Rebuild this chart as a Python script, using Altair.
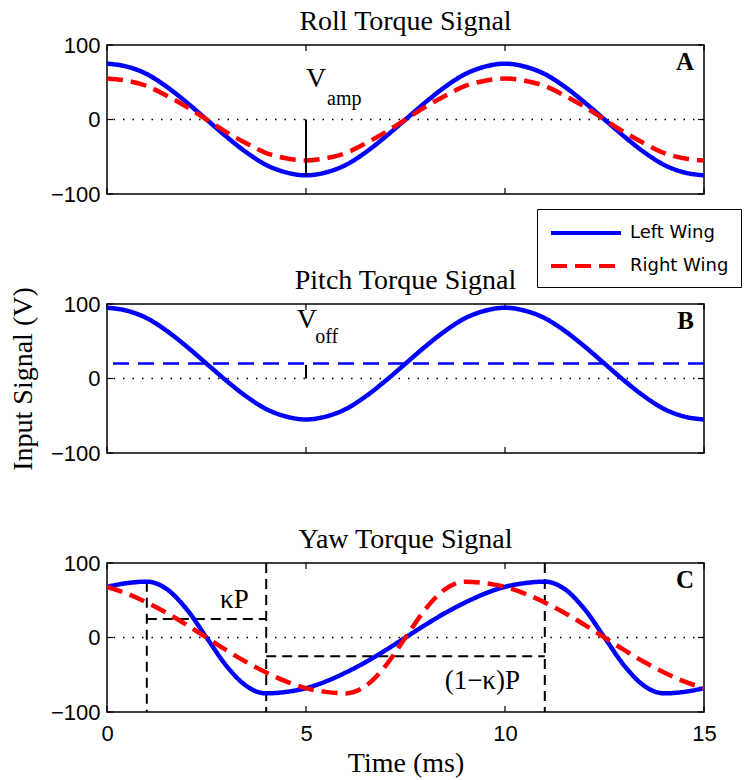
import altair as alt
import pandas as pd

# ---------------- data ----------------
time = [0, 0.5, 1, 1.5, 2, 2.5, 3, 3.5, 4, 4.5, 5, 5.5, 6, 6.5, 7, 7.5,
        8, 8.5, 9, 9.5, 10, 10.5, 11, 11.5, 12, 12.5, 13, 13.5, 14, 14.5, 15]

roll_left = [75, 71, 61, 44, 23, 0, -23, -44, -61, -71, -75, -71, -61, -44, -23, 0,
             23, 44, 61, 71, 75, 71, 61, 44, 23, 0, -23, -44, -61, -71, -75]
roll_right = [55, 52, 45, 32, 17, 0, -17, -32, -45, -52, -55, -52, -45, -32, -17, 0,
              17, 32, 45, 52, 55, 52, 45, 32, 17, 0, -17, -32, -45, -52, -55]
pitch_left = [95, 91, 81, 64, 43, 20, -3, -24, -41, -51, -55, -51, -41, -24, -3, 20,
              43, 64, 81, 91, 95, 91, 81, 64, 43, 20, -3, -24, -41, -51, -55]
yaw_left = [68, 73, 75, 65, 38, 0, -38, -65, -75, -73, -68, -59, -47, -33, -17, 0,
            17, 33, 47, 59, 68, 73, 75, 65, 38, 0, -38, -65, -75, -73, -68]
yaw_right = [68, 59, 47, 33, 17, 0, -17, -33, -47, -59, -68, -73, -75, -65, -38, 0,
             38, 65, 75, 73, 68, 59, 47, 33, 17, 0, -17, -33, -47, -59, -68]

series_names = ["Left Wing", "Right Wing"]
panel_titles = ["Roll Torque Signal", "Pitch Torque Signal", "Yaw Torque Signal"]
panel_letters = ["A", "B", "C"]
x_ticks = [0, 5, 10, 15]
y_ticks = [-100, 0, 100]

# annotations
amp_marker = {"x": [5], "y": [0], "y2": [-75]}
off_marker = {"x": [5], "y": [0], "y2": [18]}
offset_level = [20]
kappa_x = [1, 4, 11, 1, 4]
kappa_x2 = [1, 4, 11, 4, 11]
kappa_y = [75, 100, 100, 25, -25]
kappa_y2 = [-100, -100, -100, 25, -25]

# ---------------- helpers ----------------
W, H = 597, 149
BLUE, RED = "#0000ff", "#ff0000"
SERIF, SANS = "Liberation Serif", "Liberation Sans"

legend = alt.Legend(
    title=None, orient="none", legendX=430, legendY=164,
    symbolType="M-1,0H6", symbolSize=400, symbolStrokeWidth=4,
    labelFont="DejaVu Sans", labelFontSize=18, labelColor="black", labelOffset=57,
    strokeColor="black", fillColor="white", padding=12, rowPadding=12,
)

XS = alt.Scale(domain=[0, 15], nice=False, zero=False)
YS = alt.Scale(domain=[-100, 100], nice=False)

X_AXIS = alt.Axis(values=x_ticks, title="Time (ms)", ticks=False, domain=False, grid=False,
                  labelFont=SANS, labelFontSize=22, labelColor="black", labelPadding=11,
                  labelFlush=False, titleFont=SERIF, titleFontSize=28, titleFontWeight="normal",
                  titleColor="black", titlePadding=5)

def y_axis(title_color):
    return alt.Axis(values=y_ticks, title="Input Signal (V)", ticks=False, domain=False, grid=False,
                    labelFont=SANS, labelFontSize=22, labelColor="black", labelPadding=7,
                    labelFlush=False, labelOverlap=False, titleFont=SERIF, titleFontSize=28,
                    titleFontWeight="normal", titleColor=title_color, titlePadding=13)


def make_panel(idx, show_x, title_color):
    xa = X_AXIS if show_x else None
    ya = y_axis(title_color)

    def X(field):
        return alt.X(field, scale=XS, axis=xa)

    def Y(field):
        return alt.Y(field, scale=YS, axis=ya)

    def zero_layer():
        return alt.Chart(pd.DataFrame({"value": [0]})).mark_rule(
            color="black", strokeWidth=1.5, strokeDash=[1.5, 8]).encode(y=Y("value:Q"))

    def tick_layers():
        xt = pd.DataFrame({"time": x_ticks})
        yt = pd.DataFrame({"value": y_ticks})
        base = dict(color="black", strokeWidth=1.2)
        return [
            alt.Chart(xt).mark_rule(**base).encode(x=X("time:Q"), y=alt.value(H), y2=alt.value(H - 6)),
            alt.Chart(xt).mark_rule(**base).encode(x=X("time:Q"), y=alt.value(0), y2=alt.value(6)),
            alt.Chart(yt).mark_rule(**base).encode(y=Y("value:Q"), x=alt.value(0), x2=alt.value(6)),
            alt.Chart(yt).mark_rule(**base).encode(y=Y("value:Q"), x=alt.value(W - 6), x2=alt.value(W)),
        ]

    def line_layer(df):
        return alt.Chart(df).mark_line(interpolate="monotone", strokeWidth=4.5, clip=True).encode(
            x=X("time:Q"),
            y=Y("value:Q"),
            color=alt.Color("series:N", scale=alt.Scale(domain=series_names, range=[BLUE, RED]), legend=legend),
            strokeDash=alt.StrokeDash("series:N", scale=alt.Scale(domain=series_names, range=[[1, 0], [16, 8]]),
                                      legend=legend),
            detail="series:N",
        )

    def text_layer(xs, ys, labels, size, weight="normal", align="left"):
        df = pd.DataFrame({"time": xs, "value": ys, "label": labels})
        return alt.Chart(df).mark_text(font=SERIF, fontSize=size, fontWeight=weight, align=align,
                                       baseline="alphabetic", color="black").encode(
            x=X("time:Q"), y=Y("value:Q"), text="label:N")

    def vrule(d, **kw):
        df = pd.DataFrame({"time": d["x"], "value": d["y"], "value2": d["y2"]})
        return alt.Chart(df).mark_rule(**kw).encode(x=X("time:Q"), y=Y("value:Q"), y2="value2:Q")

    layers = [zero_layer()] + tick_layers()
    if idx == 0:
        df = pd.DataFrame({"time": time * 2, "value": roll_left + roll_right,
                           "series": [series_names[0]] * len(time) + [series_names[1]] * len(time)})
        layers += [
            line_layer(df),
            vrule(amp_marker, color="black", strokeWidth=2),
            text_layer([5.0], [44], ["V"], 28),
            text_layer([5.53], [20], ["amp"], 20),
        ]
    elif idx == 1:
        df = pd.DataFrame({"time": time, "value": pitch_left, "series": [series_names[0]] * len(time)})
        lvl = alt.Chart(pd.DataFrame({"value": offset_level})).mark_rule(
            color=BLUE, strokeWidth=2.5, strokeDash=[16, 9]).encode(y=Y("value:Q"))
        layers += [
            lvl,
            vrule(off_marker, color="black", strokeWidth=2),
            line_layer(df),
            text_layer([4.77], [68], ["V"], 28),
            text_layer([5.23], [48], ["off"], 20),
        ]
    else:
        df = pd.DataFrame({"time": time * 2, "value": yaw_left + yaw_right,
                           "series": [series_names[0]] * len(time) + [series_names[1]] * len(time)})
        kdf = pd.DataFrame({"time": kappa_x, "time2": kappa_x2, "value": kappa_y, "value2": kappa_y2})
        klines = alt.Chart(kdf).mark_rule(color="black", strokeWidth=2, strokeDash=[10, 6]).encode(
            x=X("time:Q"), x2="time2:Q", y=Y("value:Q"), y2="value2:Q")
        layers += [
            klines,
            line_layer(df),
            text_layer([3.2], [40], ["κP"], 27, align="center"),
            text_layer([9.43], [-69], ["(1−κ)P"], 27, align="center"),
        ]
    layers.append(text_layer([14.75], [66], [panel_letters[idx]], 25, "bold", "right"))
    return alt.layer(*layers).properties(
        width=W, height=H,
        title=alt.TitleParams(panel_titles[idx], font=SERIF, fontSize=28, fontWeight="normal",
                              color="black", offset=-8))


panelA = make_panel(0, False, "transparent")
panelB = make_panel(1, False, "black")
panelC = make_panel(2, True, "transparent")

chart = alt.vconcat(panelA, panelB, panelC, spacing=52).properties(
    padding={"left": 0, "top": -2, "right": 0, "bottom": 0}
).configure_view(stroke="black", strokeWidth=1.5)

chart.save("out.html", embed_options={"renderer": "svg", "actions": False})
